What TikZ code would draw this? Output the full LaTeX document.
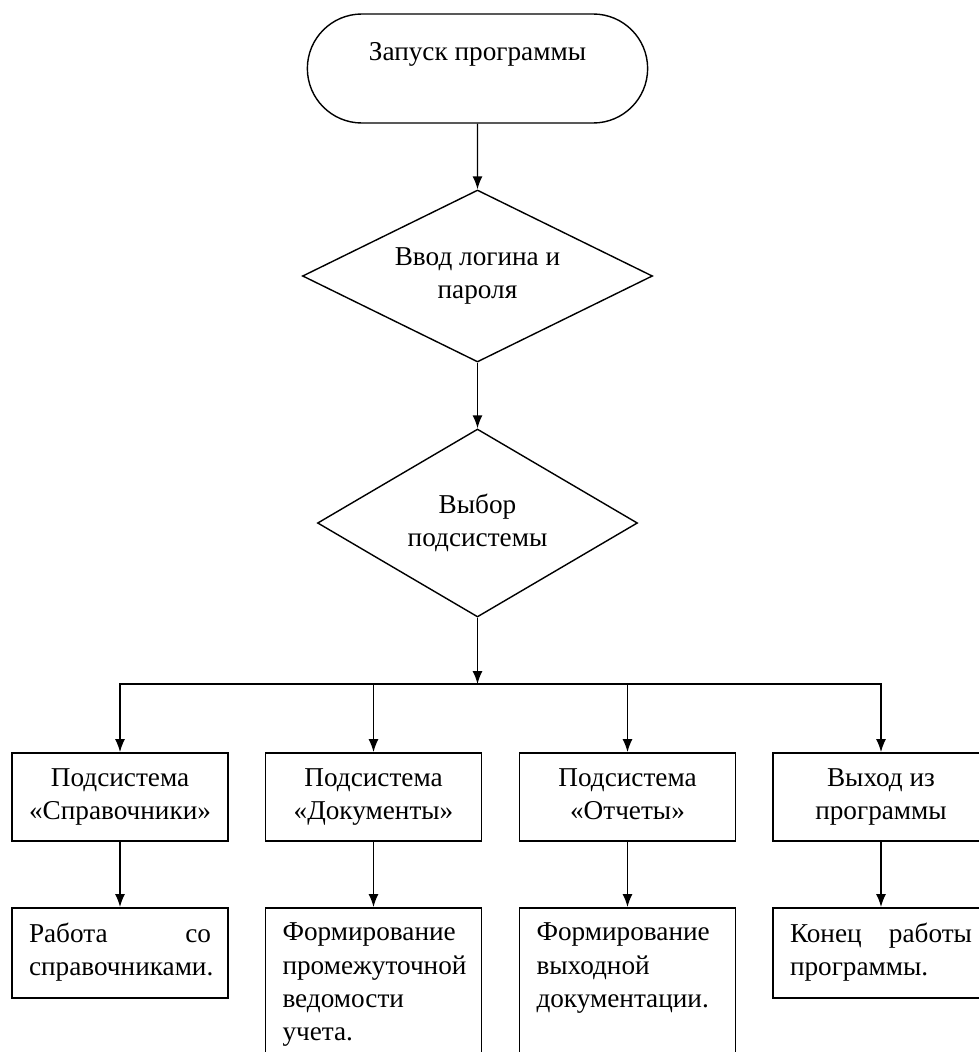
\documentclass[tikz,border=0pt]{standalone}
\usepackage{fontspec}
\setmainfont{Liberation Serif}
\usetikzlibrary{shapes.geometric, shapes.misc, arrows.meta}

\begin{document}
\begin{tikzpicture}[
    every node/.style={font=\fontsize{15.5}{19}\selectfont},
    terminal/.style={rounded rectangle, draw, line width=0.8pt, minimum width=7.04cm, minimum height=2.18cm, align=center},
    decision/.style={diamond, draw, line width=0.8pt, align=center, inner sep=0pt},
    subsys/.style={rectangle, draw, line width=1pt, minimum width=4.32cm, minimum height=1.76cm, align=center},
    action/.style={rectangle, draw, line width=1pt, anchor=north, inner xsep=0.34cm, inner ysep=0.3cm},
    flow/.style={-{Latex[length=2.6mm, width=2mm]}, line width=0.8pt},
]
\clip (0,0) rectangle (19.58,-21.04);
\node[terminal] (start) at (9.55,-1.37) {Запуск программы\\\mbox{}};
\node[decision, aspect=2.03, minimum width=7cm, minimum height=3.44cm] (login) at (9.55,-5.52) {Ввод логина и\\пароля};
\node[decision, aspect=1.7, minimum width=6.4cm, minimum height=3.76cm] (choice) at (9.55,-10.46) {Выбор\\подсистемы};
\coordinate (bus) at (9.55,-13.68);
\node[subsys] (refs) at (2.4,-15.94) {Подсистема\\«Справочники»};
\node[subsys] (docs) at (7.47,-15.94) {Подсистема\\«Документы»};
\node[subsys] (reps) at (12.55,-15.94) {Подсистема\\«Отчеты»\vphantom{р}};
\node[subsys] (quit) at (17.62,-15.94) {Выход из\\программы};
\node[action] (refswork) at (2.4,-18.14) {\parbox[t][1.2cm][t]{3.64cm}{Работа\hfill со\\справочниками.}};
\node[action] (docswork) at (7.47,-18.14) {\parbox[t][2.5cm][t]{3.64cm}{Формирование\\промежуточной\\ведомости\\учета.}};
\node[action] (repswork) at (12.55,-18.14) {\parbox[t][2.5cm][t]{3.64cm}{Формирование\\выходной\\документации.}};
\node[action] (quitwork) at (17.62,-18.14) {\parbox[t][1.2cm][t]{3.64cm}{Конец\hfill работы\\программы.}};
\draw[flow] (start) -- (login);
\draw[flow] (login) -- (choice);
\draw[flow] (choice) -- (bus);
\draw[flow] (bus) -| (refs);
\draw[flow] (bus) -| (docs);
\draw[flow] (bus) -| (reps);
\draw[flow] (bus) -| (quit);
\draw[flow] (refs) -- (refswork);
\draw[flow] (docs) -- (docswork);
\draw[flow] (reps) -- (repswork);
\draw[flow] (quit) -- (quitwork);
\end{tikzpicture}
\end{document}
